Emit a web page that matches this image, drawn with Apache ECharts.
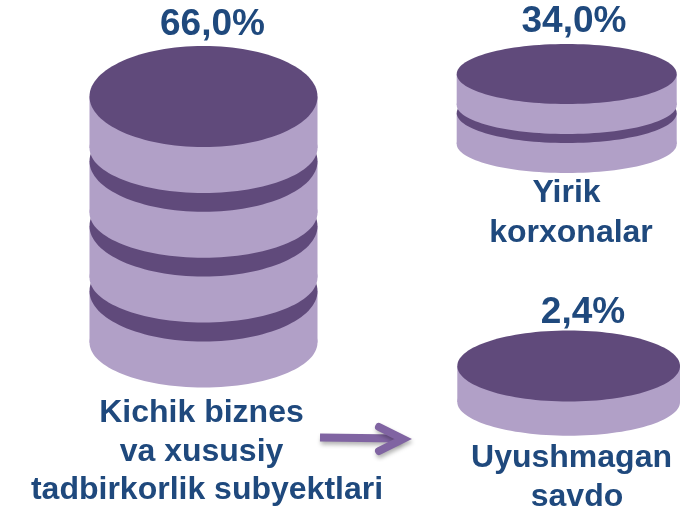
<!DOCTYPE html>
<html>
<head>
<meta charset="utf-8">
<style>html,body{margin:0;padding:0;background:#fff}#c{width:694px;height:507px}</style>
<script src="https://cdn.jsdelivr.net/npm/echarts@6/dist/echarts.min.js"></script>
</head>
<body>
<div id="c"></div>
<script>
// Data
const categories = [
  ['Kichik biznes', 'va xususiy', 'tadbirkorlik subyektlari'],
  ['Yirik ', 'korxonalar'],
  ['Uyushmagan', 'savdo']
];
const shares = [66.0, 34.0, 2.4];
const diskCounts = [4, 2, 1];

// Layout and style
const DARK = '#604a7b', LIGHT = '#b1a0c7', INK = '#1f497d', ARROW = '#8064a2';
const FONT = '"Liberation Sans", Arial, sans-serif';
const grids = [
  { left: 89.5, width: 228, top: 96.5, height: 259.2 },
  { left: 456.7, width: 220, top: 74, height: 78 },
  { left: 457.3, width: 222.7, top: 366, height: 40 }
];
const ry = [50.5, 30, 35.5];
const bottomRy = [45, 29, 33.7];
const side = [51.5, 31, 36];
const valuePos = [[212.5, 25], [574, 22], [583, 313]];
const namePos = [
  [[201.5, 413], [201.5, 452], [207, 490]],
  [[571, 193], [571, 233]],
  [[571.5, 458], [577, 497]]
];

const fmt = v => v.toFixed(1).replace('.', ',') + '%';

function makeRender(g) {
  return function (params, api) {
    const children = [];
    const rx = api.size([1, 0])[0] / 2;
    const n = api.value(1);
    for (let i = 0; i < n; i++) {
      const p = api.coord([0, i + 1]);
      children.push(
        { type: 'rect', shape: { x: p[0] - rx, y: p[1], width: 2 * rx, height: side[g] }, style: { fill: LIGHT } },
        { type: 'ellipse', shape: { cx: p[0], cy: p[1] + side[g], rx: rx, ry: bottomRy[g] }, style: { fill: LIGHT } },
        { type: 'ellipse', shape: { cx: p[0], cy: p[1], rx: rx, ry: ry[g] }, style: { fill: DARK } }
      );
    }
    return { type: 'group', children: children };
  };
}

const textEl = (text, pos, size) => ({
  type: 'text', x: pos[0], y: pos[1], silent: true,
  style: { text: text, fill: INK, font: 'bold ' + size + 'px ' + FONT, textAlign: 'center', textVerticalAlign: 'middle' }
});

const graphicEls = [];
shares.forEach((v, g) => {
  graphicEls.push(textEl(fmt(v), valuePos[g], 37));
  categories[g].forEach((line, l) => graphicEls.push(textEl(line, namePos[g][l], 32)));
});
const arrowShadow = { shadowColor: 'rgba(0,0,0,0.3)', shadowBlur: 4, shadowOffsetX: 1, shadowOffsetY: 3 };
graphicEls.push(
  { type: 'polyline', shape: { points: [[320, 437.5], [400, 438.5]] }, style: Object.assign({ fill: null, stroke: ARROW, lineWidth: 8 }, arrowShadow) },
  { type: 'polyline', shape: { points: [[379, 427], [403, 439], [379, 451]] }, style: Object.assign({ fill: null, stroke: ARROW, lineWidth: 8, lineCap: 'round', lineJoin: 'miter' }, arrowShadow) }
);

const chart = echarts.init(document.getElementById('c'), null, { width: 694, height: 507 });
chart.setOption({
  animation: false,
  backgroundColor: '#fff',
  grid: grids,
  xAxis: grids.map((_, g) => ({ type: 'category', gridIndex: g, data: [categories[g].join(' ').trim()], show: false })),
  yAxis: grids.map((_, g) => ({ type: 'value', gridIndex: g, min: 0, max: diskCounts[g], show: false })),
  series: grids.map((_, g) => ({
    type: 'custom', xAxisIndex: g, yAxisIndex: g, clip: false,
    renderItem: makeRender(g),
    data: [[0, diskCounts[g], shares[g]]]
  })),
  graphic: graphicEls
});
</script>
</body>
</html>
